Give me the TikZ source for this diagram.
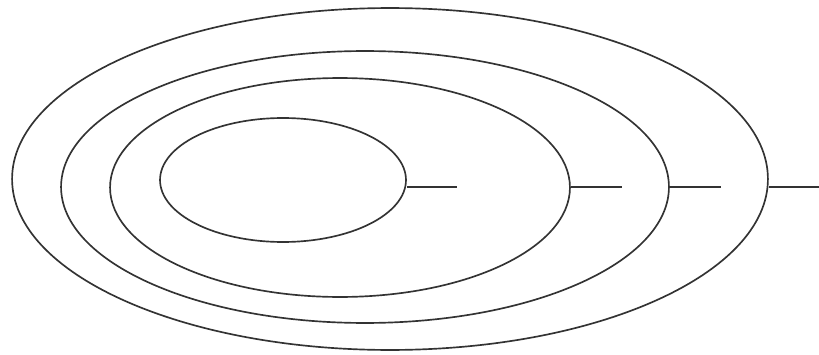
\documentclass[tikz,border=0pt]{standalone}
\usepackage{tikz}
\usetikzlibrary{
    positioning,
    calc,
    shapes.geometric
}
\tikzset{
  ring/.style  = {draw, ellipse, inner sep=0pt, line width=0.95pt, black!80},
  stub/.style  = {line width=0.95pt, black!80}
}

\begin{document}
\begin{tikzpicture}[x=0.02cm, y=-0.02cm]
\useasboundingbox (0,0) rectangle (819,355);

% nested ellipses (pixel coordinates)
\node[ring, minimum width=15.12cm, minimum height=6.84cm] (e4) at (390,179) {};
\node[ring, minimum width=12.16cm, minimum height=5.44cm] (e3) at (365,187) {};
\node[ring, minimum width=9.20cm, minimum height=4.38cm] (e2) at (340,187.5) {};
\node[ring, minimum width=4.92cm, minimum height=2.48cm] (e1) at (283,180) {};

% stub ends
\coordinate (t1) at (457,187);
\coordinate (t2) at (622,187);
\coordinate (t3) at (721,187);
\coordinate (t4) at (819,187);

\draw[stub] (e1.east |- t1) -- (t1);
\draw[stub] (e2.east |- t2) -- (t2);
\draw[stub] (e3.east |- t3) -- (t3);
\draw[stub] (e4.east |- t4) -- (t4);
\end{tikzpicture}
\end{document}
